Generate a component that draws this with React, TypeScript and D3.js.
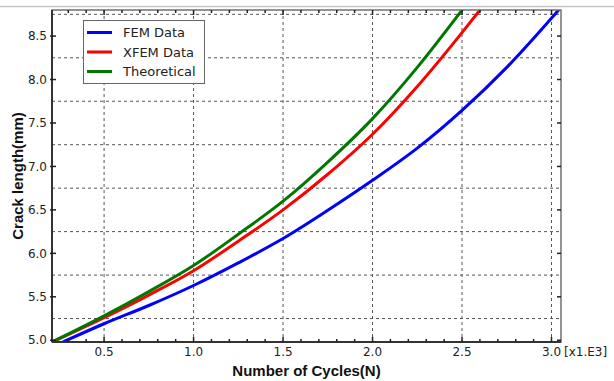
import React from "react";
import * as d3 from "d3";

// cycles in thousands (x1.E3), crack length in mm
const femData: [number, number][] = [
  [0.27, 4.98], [0.5, 5.19], [0.75, 5.4], [1.0, 5.63], [1.25, 5.89], [1.5, 6.17],
  [1.75, 6.495], [2.0, 6.84], [2.25, 7.21], [2.5, 7.645], [2.75, 8.14], [3.04, 8.8],
];
const xfemData: [number, number][] = [
  [0.21, 4.98], [0.5, 5.26], [0.75, 5.52], [1.0, 5.8], [1.25, 6.14], [1.5, 6.5],
  [1.75, 6.91], [2.0, 7.37], [2.25, 7.92], [2.5, 8.54], [2.6, 8.8],
];
const theoryData: [number, number][] = [
  [0.21, 4.98], [0.5, 5.28], [0.75, 5.56], [1.0, 5.86], [1.25, 6.22], [1.5, 6.6],
  [1.75, 7.05], [2.0, 7.55], [2.25, 8.14], [2.5, 8.8],
];

const xTicks = [0.5, 1.0, 1.5, 2.0, 2.5, 3.0];
const yTicks = [5.0, 5.5, 6.0, 6.5, 7.0, 7.5, 8.0, 8.5];
const yGrid = [5.25, 5.75, 6.25, 6.75, 7.25, 7.75, 8.25, 8.75];

const series = [
  { name: "FEM Data", color: "#0000ff", data: femData },
  { name: "XFEM Data", color: "#ff0000", data: xfemData },
  { name: "Theoretical", color: "#007800", data: theoryData },
];

const W = 614;
const H = 381;
const left = 52, right = 561, top = 10, bottom = 342;

export default function App() {
  const x = d3.scaleLinear().domain([0.209, 3.053]).range([left, right]);
  const y = d3.scaleLinear().domain([4.98, 8.8]).range([bottom, top]);
  const line = d3
    .line<[number, number]>()
    .x((d) => x(d[0]))
    .y((d) => y(d[1]))
    .curve(d3.curveMonotoneX);

  const minorX = d3.range(0.3, 3.05, 0.1).filter((v) => Math.abs(v * 2 - Math.round(v * 2)) > 0.01);
  const font = "'DejaVu Sans', Verdana, sans-serif";

  return (
    <div style={{ position: "fixed", left: 0, top: 0 }}>
      <svg width={W} height={H} style={{ display: "block", background: "#fff" }}>
        <line x1={0} x2={W} y1={6.5} y2={6.5} stroke="#c4c4c4" strokeWidth={1.5} />
        <defs>
          <clipPath id="plot">
            <rect x={left} y={top} width={right - left} height={bottom - top} />
          </clipPath>
        </defs>

        {/* grid */}
        <g stroke="#555" strokeWidth={1} strokeDasharray="3,3">
          {xTicks.map((t) => (
            <line key={"vx" + t} x1={x(t)} x2={x(t)} y1={top} y2={bottom} />
          ))}
          {yGrid.map((t) => (
            <line key={"hy" + t} x1={left} x2={right} y1={y(t)} y2={y(t)} />
          ))}
        </g>

        {/* curves */}
        <g clipPath="url(#plot)" fill="none" strokeWidth={3} strokeLinecap="round">
          {series.map((s) => (
            <path key={s.name} d={line(s.data) || ""} stroke={s.color} />
          ))}
        </g>

        {/* frame */}
        <rect x={left} y={top} width={right - left} height={bottom - top} fill="none" stroke="#707070" strokeWidth={1.5} />
        <line x1={left} x2={right} y1={bottom} y2={bottom} stroke="#333" strokeWidth={2} />
        <line x1={left} x2={left} y1={top} y2={bottom} stroke="#333" strokeWidth={2} />

        {/* ticks */}
        <g stroke="#222" strokeWidth={1.5}>
          {xTicks.map((t) => (
            <g key={"tx" + t}>
              <line x1={x(t)} x2={x(t)} y1={bottom} y2={bottom - 5} />
              <line x1={x(t)} x2={x(t)} y1={top} y2={top + 5} />
            </g>
          ))}
          {minorX.map((t) => (
            <g key={"mx" + t.toFixed(1)}>
              <line x1={x(t)} x2={x(t)} y1={bottom} y2={bottom - 3} />
              <line x1={x(t)} x2={x(t)} y1={top} y2={top + 3} />
            </g>
          ))}
          {yTicks.map((t) => (
            <g key={"ty" + t}>
              <line x1={left - 2} x2={left + 4} y1={y(t)} y2={y(t)} />
              <line x1={right} x2={right - 4} y1={y(t)} y2={y(t)} />
            </g>
          ))}
        </g>

        {/* tick labels */}
        <g fontFamily={font} fontSize={12} fill="#222">
          {xTicks.map((t) => (
            <text key={"lx" + t} x={x(t)} y={bottom + 14} textAnchor="middle">
              {d3.format(".1f")(t)}
            </text>
          ))}
          <text x={right + 3} y={bottom + 14}>[x1.E3]</text>
          {yTicks.map((t) => (
            <text key={"ly" + t} x={left - 5} y={y(t)} dy="0.35em" textAnchor="end">
              {d3.format(".1f")(t)}
            </text>
          ))}
        </g>

        {/* axis titles */}
        <text
          x={(left + right) / 2}
          y={376}
          textAnchor="middle"
          fontFamily="'Liberation Sans', Arial, sans-serif"
          fontWeight="bold"
          fontSize={15}
          fill="#111"
        >
          Number of Cycles(N)
        </text>
        <text
          transform={`translate(23,${(top + bottom) / 2}) rotate(-90)`}
          textAnchor="middle"
          fontFamily="'Liberation Sans', Arial, sans-serif"
          fontWeight="bold"
          fontSize={15}
          fill="#111"
        >
          Crack length(mm)
        </text>

        {/* legend */}
        <g>
          <rect x={83.5} y={20.5} width={121} height={63} fill="#fff" stroke="#666" strokeWidth={1} />
          {series.map((s, i) => (
            <g key={"lg" + s.name} transform={`translate(0,${32.5 + i * 19.5})`}>
              <line x1={87} x2={112} y1={0} y2={0} stroke={s.color} strokeWidth={3} />
              <text x={123} y={0} dy="0.35em" fontFamily={font} fontSize={13} fill="#222">
                {s.name}
              </text>
            </g>
          ))}
        </g>
      </svg>
    </div>
  );
}
